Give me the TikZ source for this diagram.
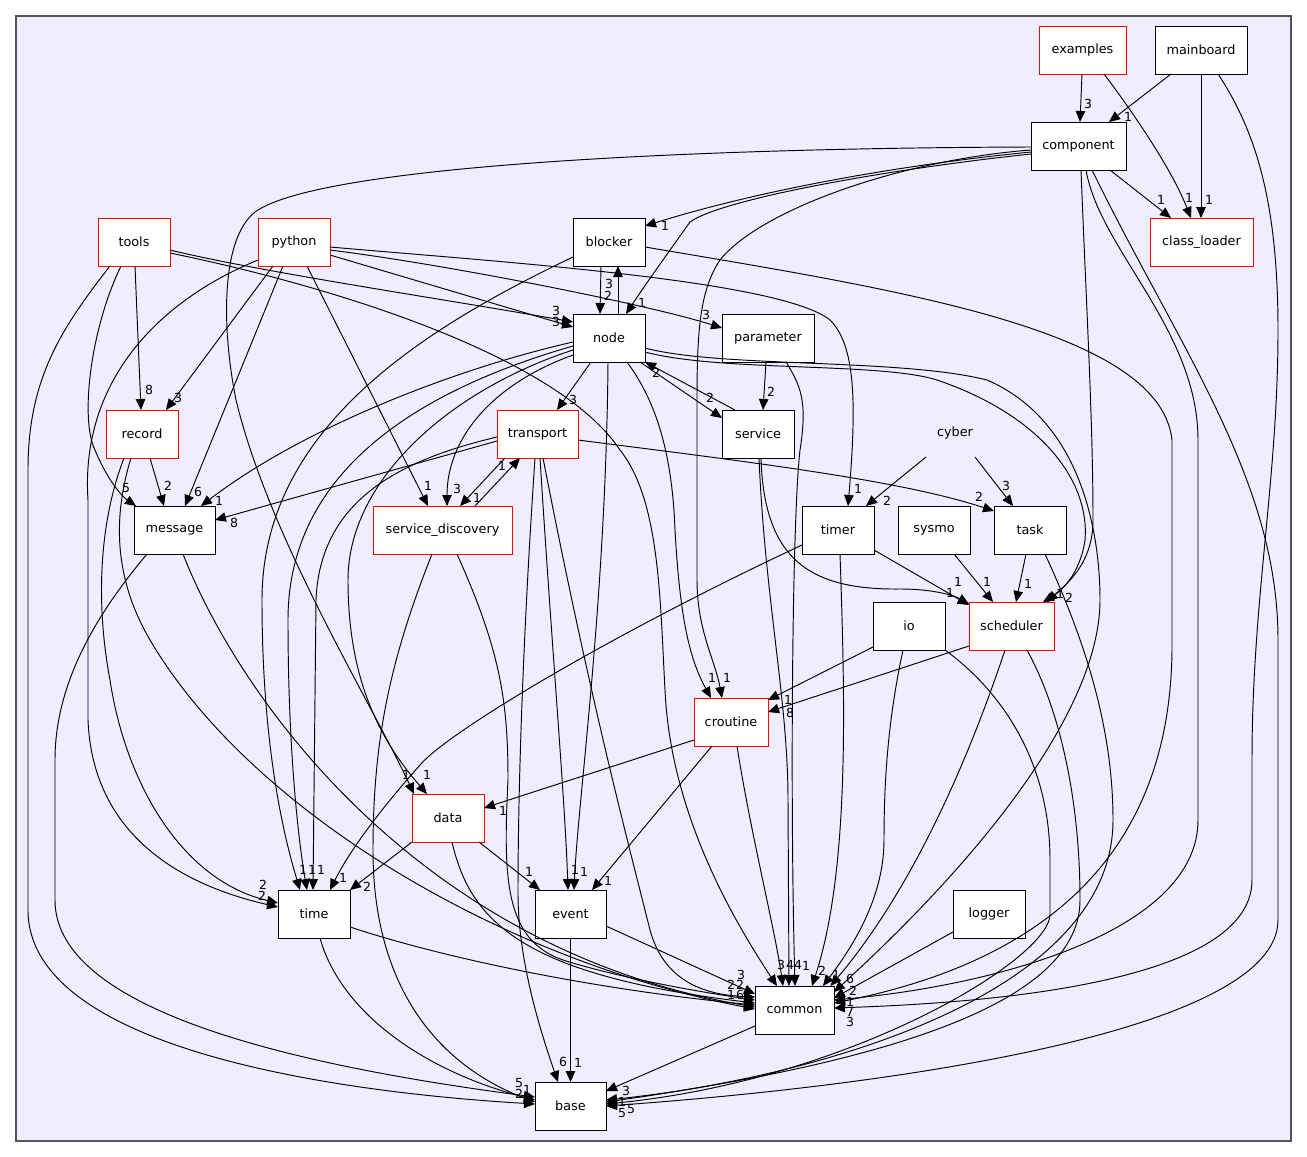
\documentclass[tikz,border=0pt]{standalone}
\usepackage{fontspec}
\setmainfont{DejaVu Sans}
\usetikzlibrary{arrows.meta}
\definecolor{bgfill}{HTML}{EEEEFF}
\definecolor{framec}{HTML}{555555}
\tikzset{
  dirbox/.style={draw=black, fill=white, minimum height=48pt, inner sep=0pt, outer sep=0pt, line width=0.9pt, font=\fontsize{12.8}{15}\selectfont},
  rdirbox/.style={dirbox, draw=red},
  dep/.style={-{Triangle[length=11pt,width=9.5pt]}, line width=0.95pt},
  lbl/.style={inner sep=0pt, font=\fontsize{12.5}{14}\selectfont},
}
\begin{document}
\begin{tikzpicture}[x=1pt,y=-1pt]
\useasboundingbox (0,0) rectangle (1307,1157);
\draw[fill=bgfill, draw=framec, line width=1.3pt] (16,16) rectangle (1291,1141);

% nodes
\node[rdirbox, minimum width=87pt] (examples) at (1082.5,50) {examples};
\node[dirbox, minimum width=92pt] (mainboard) at (1201,50) {mainboard};
\node[dirbox, minimum width=95pt] (component) at (1078.5,146) {component};
\node[rdirbox, minimum width=103pt] (classloader) at (1201.5,242) {class\_loader};
\node[rdirbox, minimum width=72pt] (tools) at (134,242) {tools};
\node[rdirbox, minimum width=72pt] (python) at (294,242) {python};
\node[dirbox, minimum width=72pt] (blocker) at (609,242) {blocker};
\node[dirbox, minimum width=72pt] (nodedir) at (609,338) {node};
\node[dirbox, minimum width=92pt] (parameter) at (768,338) {parameter};
\node[rdirbox, minimum width=72pt] (record) at (142,434) {record};
\node[rdirbox, minimum width=81pt] (transport) at (537.5,434) {transport};
\node[dirbox, minimum width=72pt] (service) at (758,434) {service};
\node[dirbox, minimum width=81pt] (message) at (174.5,530) {message};
\node[rdirbox, minimum width=139pt] (sd) at (442.5,530) {service\_discovery};
\node[dirbox, minimum width=72pt] (timer) at (838,530) {timer};
\node[dirbox, minimum width=72pt] (sysmo) at (934,530) {sysmo};
\node[dirbox, minimum width=72pt] (task) at (1030,530) {task};
\node[minimum width=72pt, minimum height=48pt, inner sep=0pt, outer sep=0pt, font=\fontsize{12.8}{15}\selectfont] (cyber) at (955,433) {cyber};
\node[dirbox, minimum width=72pt] (io) at (909,626) {io};
\node[rdirbox, minimum width=85pt] (scheduler) at (1011.5,626) {scheduler};
\node[rdirbox, minimum width=74pt] (croutine) at (731,722) {croutine};
\node[rdirbox, minimum width=72pt] (data) at (448,818) {data};
\node[dirbox, minimum width=72pt] (time) at (314,914) {time};
\node[dirbox, minimum width=71pt] (event) at (570.5,914) {event};
\node[dirbox, minimum width=72pt] (logger) at (989,914) {logger};
\node[dirbox, minimum width=79pt] (common) at (794.5,1010) {common};
\node[dirbox, minimum width=71pt] (base) at (570.5,1106) {base};

% examples
\draw[dep] ([xshift=-0.5pt]examples.south) -- ([xshift=1.5pt]component.north);
\draw[dep] ([xshift=21.5pt]examples.south) .. controls (1135,115) and (1172,170) .. ([xshift=-10.5pt]classloader.north);
% mainboard
\draw[dep] ([xshift=-30pt]mainboard.south) -- ([xshift=30.5pt]component.north);
\draw[dep] (mainboard.south) -- ([xshift=-0.5pt]classloader.north);
\draw[dep] ([xshift=17pt]mainboard.south) .. controls (1255,130) and (1278,200) .. (1278,330) .. controls (1278,480) and (1252,600) .. (1252,760) -- (1252,880) .. controls (1252,990) and (950,1004) .. ([yshift=2pt]common.east);
% component
\draw[dep] ([xshift=31.5pt]component.south) -- ([xshift=-30.5pt]classloader.north);
\draw[dep] ([yshift=-6pt]component.west) .. controls (900,165) and (760,190) .. ([yshift=16pt]blocker.east);
\draw[dep] ([yshift=-8pt]component.west) .. controls (880,170) and (720,200) .. (690,222) .. controls (670,250) and (645,285) .. ([xshift=17pt]nodedir.north);
\draw[dep] ([yshift=-1pt]component.west) .. controls (700,148) and (320,165) .. (255,212) .. controls (220,240) and (222,330) .. (236,400) .. controls (270,540) and (370,700) .. ([xshift=-34pt]data.north);
\draw[dep] ([yshift=-4pt]component.west) .. controls (900,160) and (760,210) .. (720,260) .. controls (700,290) and (697,330) .. (697,400) -- (697,580) .. controls (697,630) and (715,660) .. ([xshift=-9pt]croutine.north);
\draw[dep] ([xshift=2.5pt]component.south) .. controls (1086,300) and (1093,420) .. (1093,520) .. controls (1093,565) and (1065,585) .. ([xshift=35.5pt]scheduler.north);
\draw[dep] ([xshift=7.5pt]component.south) .. controls (1100,250) and (1198,330) .. (1198,440) -- (1198,820) .. controls (1198,930) and (1000,985) .. ([yshift=10pt]common.east);
\draw[dep] ([xshift=13.5pt]component.south) .. controls (1180,350) and (1278,480) .. (1278,640) -- (1278,920) .. controls (1278,1030) and (900,1085) .. (base.east);
% blocker
\draw[dep] ([xshift=-8pt]blocker.south) -- ([xshift=-9pt]nodedir.north);
\draw[dep] ([xshift=9pt]nodedir.north) -- ([xshift=9pt]blocker.south);
\draw[dep] ([yshift=-15pt]blocker.west) .. controls (420,330) and (262,430) .. (262,600) .. controls (262,750) and (285,840) .. ([xshift=-14pt]time.north);
\draw[dep] ([yshift=-5pt]blocker.east) .. controls (900,290) and (1160,330) .. (1172,440) -- (1172,650) .. controls (1170,850) and (1050,960) .. ([yshift=7pt]common.east);
% node
\draw[dep] ([xshift=31pt]nodedir.south) -- ([yshift=16pt]service.west);
\draw[dep] ([xshift=-23pt]service.north) -- (nodedir.south east);
\draw[dep] ([xshift=-18pt]nodedir.south) -- ([xshift=19.5pt]transport.north);
\draw[dep] ([xshift=-1pt]nodedir.south) .. controls (606,600) and (578,800) .. ([xshift=3.5pt]event.north);
\draw[dep] ([xshift=18pt]nodedir.south) .. controls (655,400) and (672,450) .. (675,530) .. controls (680,620) and (690,660) .. ([xshift=-20pt]croutine.north);
\draw[dep] ([yshift=-14pt]nodedir.east) .. controls (720,372) and (880,362) .. (937,380) .. controls (1040,415) and (1090,480) .. (1085,540) .. controls (1080,575) and (1060,592) .. ([xshift=31.5pt]scheduler.north);
\draw[dep] ([yshift=-10pt]nodedir.east) .. controls (720,368) and (900,358) .. (987,380) .. controls (1080,420) and (1100,530) .. (1100,600) .. controls (1100,700) and (1000,840) .. ([yshift=18pt]common.east);
\draw[dep] ([yshift=-4pt]nodedir.west) .. controls (450,370) and (300,430) .. ([xshift=26.5pt]message.north);
\draw[dep] ([yshift=-17pt]nodedir.west) .. controls (490,385) and (447,440) .. ([xshift=4.5pt]sd.north);
\draw[dep] ([yshift=-8pt]nodedir.west) .. controls (420,390) and (288,470) .. (288,620) .. controls (288,760) and (300,850) .. ([xshift=-7pt]time.north);
\draw[dep] ([yshift=-12pt]nodedir.west) .. controls (450,390) and (348,480) .. (348,580) .. controls (348,680) and (380,740) .. ([xshift=-21pt]data.north);
% tools
\draw[dep] ([xshift=1pt]tools.south) -- ([xshift=-1pt]record.north);
\draw[dep] ([xshift=-13pt]tools.south) .. controls (90,330) and (80,420) .. (95,450) .. controls (105,475) and (120,495) .. ([xshift=2pt]message.north west);
\draw[dep] ([xshift=-24pt]tools.south) .. controls (60,330) and (28,380) .. (28,470) -- (28,910) .. controls (28,1040) and (300,1090) .. ([yshift=2pt]base.west);
\draw[dep] ([yshift=-8pt]tools.east) .. controls (260,272) and (450,300) .. ([yshift=16pt]nodedir.west);
\draw[dep] ([yshift=-11pt]tools.east) .. controls (350,290) and (560,360) .. (620,450) .. controls (660,500) and (660,600) .. (665,690) .. controls (670,800) and (720,900) .. ([xshift=-17.5pt]common.north);
% python
\draw[dep] ([xshift=-21pt]python.south) -- ([xshift=24pt]record.north);
\draw[dep] ([xshift=-11pt]python.south) -- ([xshift=10.5pt]message.north);
\draw[dep] ([xshift=13pt]python.south) -- ([xshift=-14.5pt]sd.north);
\draw[dep] ([yshift=-13pt]python.east) -- ([yshift=11pt]nodedir.west);
\draw[dep] ([yshift=-8pt]python.east) .. controls (450,265) and (650,305) .. ([yshift=10pt]parameter.west);
\draw[dep] ([yshift=-5pt]python.east) .. controls (500,262) and (780,280) .. (830,320) .. controls (855,345) and (857,400) .. ([xshift=10pt]timer.north);
\draw[dep] ([yshift=-18pt]python.west) .. controls (160,300) and (80,380) .. (88,500) -- (88,720) .. controls (92,820) and (160,880) .. ([yshift=7pt]time.west);
% record
\draw[dep] ([xshift=8pt]record.south) -- ([xshift=-10.5pt]message.north);
\draw[dep] ([xshift=-18pt]record.south) .. controls (100,520) and (95,600) .. (110,680) .. controls (125,780) and (180,880) .. ([yshift=11pt]time.west);
\draw[dep] ([xshift=-11pt]record.south) .. controls (112,520) and (115,580) .. (150,640) .. controls (250,810) and (500,960) .. ([yshift=1pt]common.west);
% message
\draw[dep] ([xshift=-27.5pt]message.south) .. controls (100,610) and (55,680) .. (55,760) -- (55,900) .. controls (55,1000) and (250,1060) .. ([yshift=9pt]base.west);
\draw[dep] ([xshift=8.5pt]message.south) .. controls (240,700) and (420,950) .. ([yshift=3pt]common.west);
% transport
\draw[dep] ([yshift=-7pt]transport.west) -- ([yshift=10pt]message.east);
\draw[dep] ([yshift=-3pt]transport.west) .. controls (400,460) and (320,500) .. (316,600) -- ([xshift=-1pt]time.north);
\draw[dep] ([xshift=-32.5pt]transport.south) -- ([xshift=17.5pt]sd.north);
\draw[dep] ([xshift=32.5pt]sd.north) -- ([xshift=-17.5pt]transport.south);
\draw[dep] ([xshift=2.5pt]transport.south) .. controls (552,650) and (565,800) .. ([xshift=-2.5pt]event.north);
\draw[dep] ([xshift=-2.5pt]transport.south) .. controls (522,650) and (518,800) .. (518,893) .. controls (518,960) and (540,1030) .. ([xshift=-12.5pt]base.north);
\draw[dep] ([xshift=5.5pt]transport.south) .. controls (590,700) and (630,850) .. (650,930) .. controls (665,985) and (710,995) .. ([yshift=13pt]common.west);
\draw[dep] ([yshift=-6pt]transport.east) .. controls (750,462) and (900,480) .. ([yshift=19pt]task.west);
% service_discovery
\draw[dep] ([xshift=14.5pt]sd.south) .. controls (500,650) and (508,700) .. (508,780) .. controls (503,880) and (505,940) .. (563,960) .. controls (620,978) and (700,992) .. ([yshift=10pt]common.west);
\draw[dep] ([xshift=-10.5pt]sd.south) .. controls (390,660) and (373,740) .. (373,850) .. controls (373,1000) and (450,1070) .. ([yshift=4pt]base.west);
% timer
\draw[dep] ([yshift=-15pt]timer.west) .. controls (620,630) and (450,730) .. (420,765) .. controls (380,810) and (350,850) .. ([xshift=16pt]time.north);
\draw[dep] ([yshift=-20pt]timer.east) -- ([yshift=21pt]scheduler.west);
\draw[dep] ([xshift=2pt]timer.south) .. controls (845,700) and (850,870) .. ([xshift=17.5pt]common.north);
% cyber
\draw[dep] ([xshift=-29pt]cyber.south) -- ([xshift=28pt]timer.north);
\draw[dep] ([xshift=20pt]cyber.south) -- ([xshift=-17pt]task.north);
% sysmo, task
\draw[dep] ([xshift=20pt]sysmo.south) -- ([xshift=-18.5pt]scheduler.north);
\draw[dep] ([xshift=-4pt]task.south) -- ([xshift=4.5pt]scheduler.north);
\draw[dep] ([xshift=15pt]task.south) .. controls (1080,630) and (1113,720) .. (1113,820) .. controls (1113,1000) and (800,1080) .. ([yshift=6pt]base.east);
% service
\draw[dep] ([xshift=1pt]service.south) .. controls (765,600) and (788,700) .. (788,800) -- ([xshift=-5.5pt]common.north);
\draw[dep] ([xshift=3pt]service.south) .. controls (764,560) and (810,590) .. (900,589) .. controls (935,589) and (955,596) .. ([yshift=22pt]scheduler.west);
% parameter
\draw[dep] ([xshift=-2pt]parameter.south) -- ([xshift=5pt]service.north);
\draw[dep] ([xshift=18pt]parameter.south) .. controls (800,385) and (808,400) .. (800,450) .. controls (792,520) and (790,800) .. ([xshift=0.5pt]common.north);
% io
\draw[dep] ([yshift=-21pt]io.west) -- ([yshift=22pt]croutine.east);
\draw[dep] ([xshift=-6pt]io.south) .. controls (888,720) and (884,780) .. (884,840) .. controls (884,900) and (850,950) .. ([xshift=28.5pt]common.north);
\draw[dep] (io.south east) .. controls (1000,690) and (1050,760) .. (1050,860) -- (1050,915) .. controls (1048,960) and (850,1080) .. ([yshift=2pt]base.east);
% scheduler
\draw[dep] ([yshift=-20pt]scheduler.west) -- ([yshift=10pt]croutine.east);
\draw[dep] ([xshift=-6.5pt]scheduler.south) .. controls (975,740) and (920,880) .. ([xshift=36pt]common.north);
\draw[dep] ([xshift=15.5pt]scheduler.south) .. controls (1060,710) and (1080,800) .. (1080,900) .. controls (1080,1000) and (900,1060) .. ([yshift=4pt]base.east);
% croutine
\draw[dep] ([yshift=-18pt]croutine.west) -- ([yshift=10pt]data.east);
\draw[dep] ([xshift=-19pt]croutine.south) -- ([xshift=21.5pt]event.north);
\draw[dep] ([xshift=6pt]croutine.south) .. controls (750,830) and (775,930) .. ([xshift=-11.5pt]common.north);
% data
\draw[dep] (data.south west) -- (time.north east);
\draw[dep] ([xshift=31pt]data.south) -- ([xshift=-30.5pt]event.north);
\draw[dep] ([xshift=4pt]data.south) .. controls (470,920) and (520,975) .. ([yshift=7pt]common.west);
% time
\draw[dep] ([yshift=-13pt]time.east) .. controls (450,960) and (600,990) .. ([yshift=5pt]common.west);
\draw[dep] ([xshift=6pt]time.south) .. controls (340,1010) and (420,1070) .. ([yshift=6pt]base.west);
% event
\draw[dep] (event.south) -- (base.north);
\draw[dep] ([yshift=-12pt]event.east) -- ([yshift=16pt]common.west);
% common, logger
\draw[dep] ([yshift=-16pt]common.west) -- ([yshift=15pt]base.east);
\draw[dep] ([yshift=-18pt]logger.west) -- ([yshift=12pt]common.east);

% labels
\node[lbl] (l01) at (1088,104) {3};
\node[lbl] (l02) at (1189,198) {1};
\node[lbl] (l03) at (1128,117) {1};
\node[lbl] (l04) at (1209,200) {1};
\node[lbl] (l05) at (1161,200) {1};
\node[lbl] (l06) at (665,226) {1};
\node[lbl] (l07) at (642,303) {1};
\node[lbl] (l08) at (609,284) {3};
\node[lbl] (l09) at (608,296) {2};
\node[lbl] (l10) at (556,311) {3};
\node[lbl] (l11) at (556,322) {3};
\node[lbl] (l12) at (706,315) {3};
\node[lbl] (l13) at (710,398) {2};
\node[lbl] (l14) at (656,373) {2};
\node[lbl] (l15) at (771,392) {2};
\node[lbl] (l16) at (573,400) {3};
\node[lbl] (l17) at (149,390) {8};
\node[lbl] (l18) at (178,398) {3};
\node[lbl] (l19) at (126,488) {5};
\node[lbl] (l20) at (168,486) {2};
\node[lbl] (l21) at (198,492) {6};
\node[lbl] (l22) at (219,501) {1};
\node[lbl] (l23) at (234,523) {8};
\node[lbl] (l24) at (428,486) {1};
\node[lbl] (l25) at (457,489) {3};
\node[lbl] (l26) at (477,498) {1};
\node[lbl] (l27) at (502,466) {1};
\node[lbl] (l28) at (858,489) {1};
\node[lbl] (l29) at (887,501) {2};
\node[lbl] (l30) at (979,497) {2};
\node[lbl] (l31) at (1006,486) {3};
\node[lbl] (l32) at (958,582) {1};
\node[lbl] (l33) at (950,593) {1};
\node[lbl] (l34) at (987,582) {1};
\node[lbl] (l35) at (1028,584) {1};
\node[lbl] (l36) at (1060,594) {1};
\node[lbl] (l37) at (1069,598) {2};
\node[lbl] (l38) at (712,678) {1};
\node[lbl] (l39) at (727,678) {1};
\node[lbl] (l40) at (788,700) {1};
\node[lbl] (l41) at (790,713) {8};
\node[lbl] (l42) at (406,775) {1};
\node[lbl] (l43) at (427,775) {1};
\node[lbl] (l44) at (503,811) {1};
\node[lbl] (l45) at (303,870) {1};
\node[lbl] (l46) at (312,870) {1};
\node[lbl] (l47) at (321,870) {1};
\node[lbl] (l48) at (343,878) {1};
\node[lbl] (l49) at (367,887) {2};
\node[lbl] (l50) at (263,885) {2};
\node[lbl] (l51) at (262,896) {2};
\node[lbl] (l52) at (529,872) {1};
\node[lbl] (l53) at (575,870) {1};
\node[lbl] (l54) at (584,872) {1};
\node[lbl] (l55) at (608,881) {1};
\node[lbl] (l56) at (563,1062) {6};
\node[lbl] (l57) at (578,1063) {1};
\node[lbl] (l58) at (519,1083) {5};
\node[lbl] (l59) at (519,1094) {2};
\node[lbl] (l60) at (527,1090) {1};
\node[lbl] (l61) at (626,1091) {3};
\node[lbl] (l62) at (622,1102) {1};
\node[lbl] (l63) at (622,1113) {5};
\node[lbl] (l64) at (631,1109) {5};
\node[lbl] (l65) at (781,965) {3};
\node[lbl] (l66) at (790,965) {4};
\node[lbl] (l67) at (798,965) {4};
\node[lbl] (l68) at (806,966) {1};
\node[lbl] (l69) at (822,971) {2};
\node[lbl] (l70) at (836,975) {1};
\node[lbl] (l71) at (850,979) {6};
\node[lbl] (l72) at (853,991) {2};
\node[lbl] (l73) at (850,1002) {1};
\node[lbl] (l74) at (850,1012) {7};
\node[lbl] (l75) at (850,1022) {3};
\node[lbl] (l76) at (741,975) {3};
\node[lbl] (l77) at (731,985) {2};
\node[lbl] (l78) at (740,985) {2};
\node[lbl] (l79) at (731,995) {1};
\node[lbl] (l80) at (740,995) {6};
\end{tikzpicture}
\end{document}
